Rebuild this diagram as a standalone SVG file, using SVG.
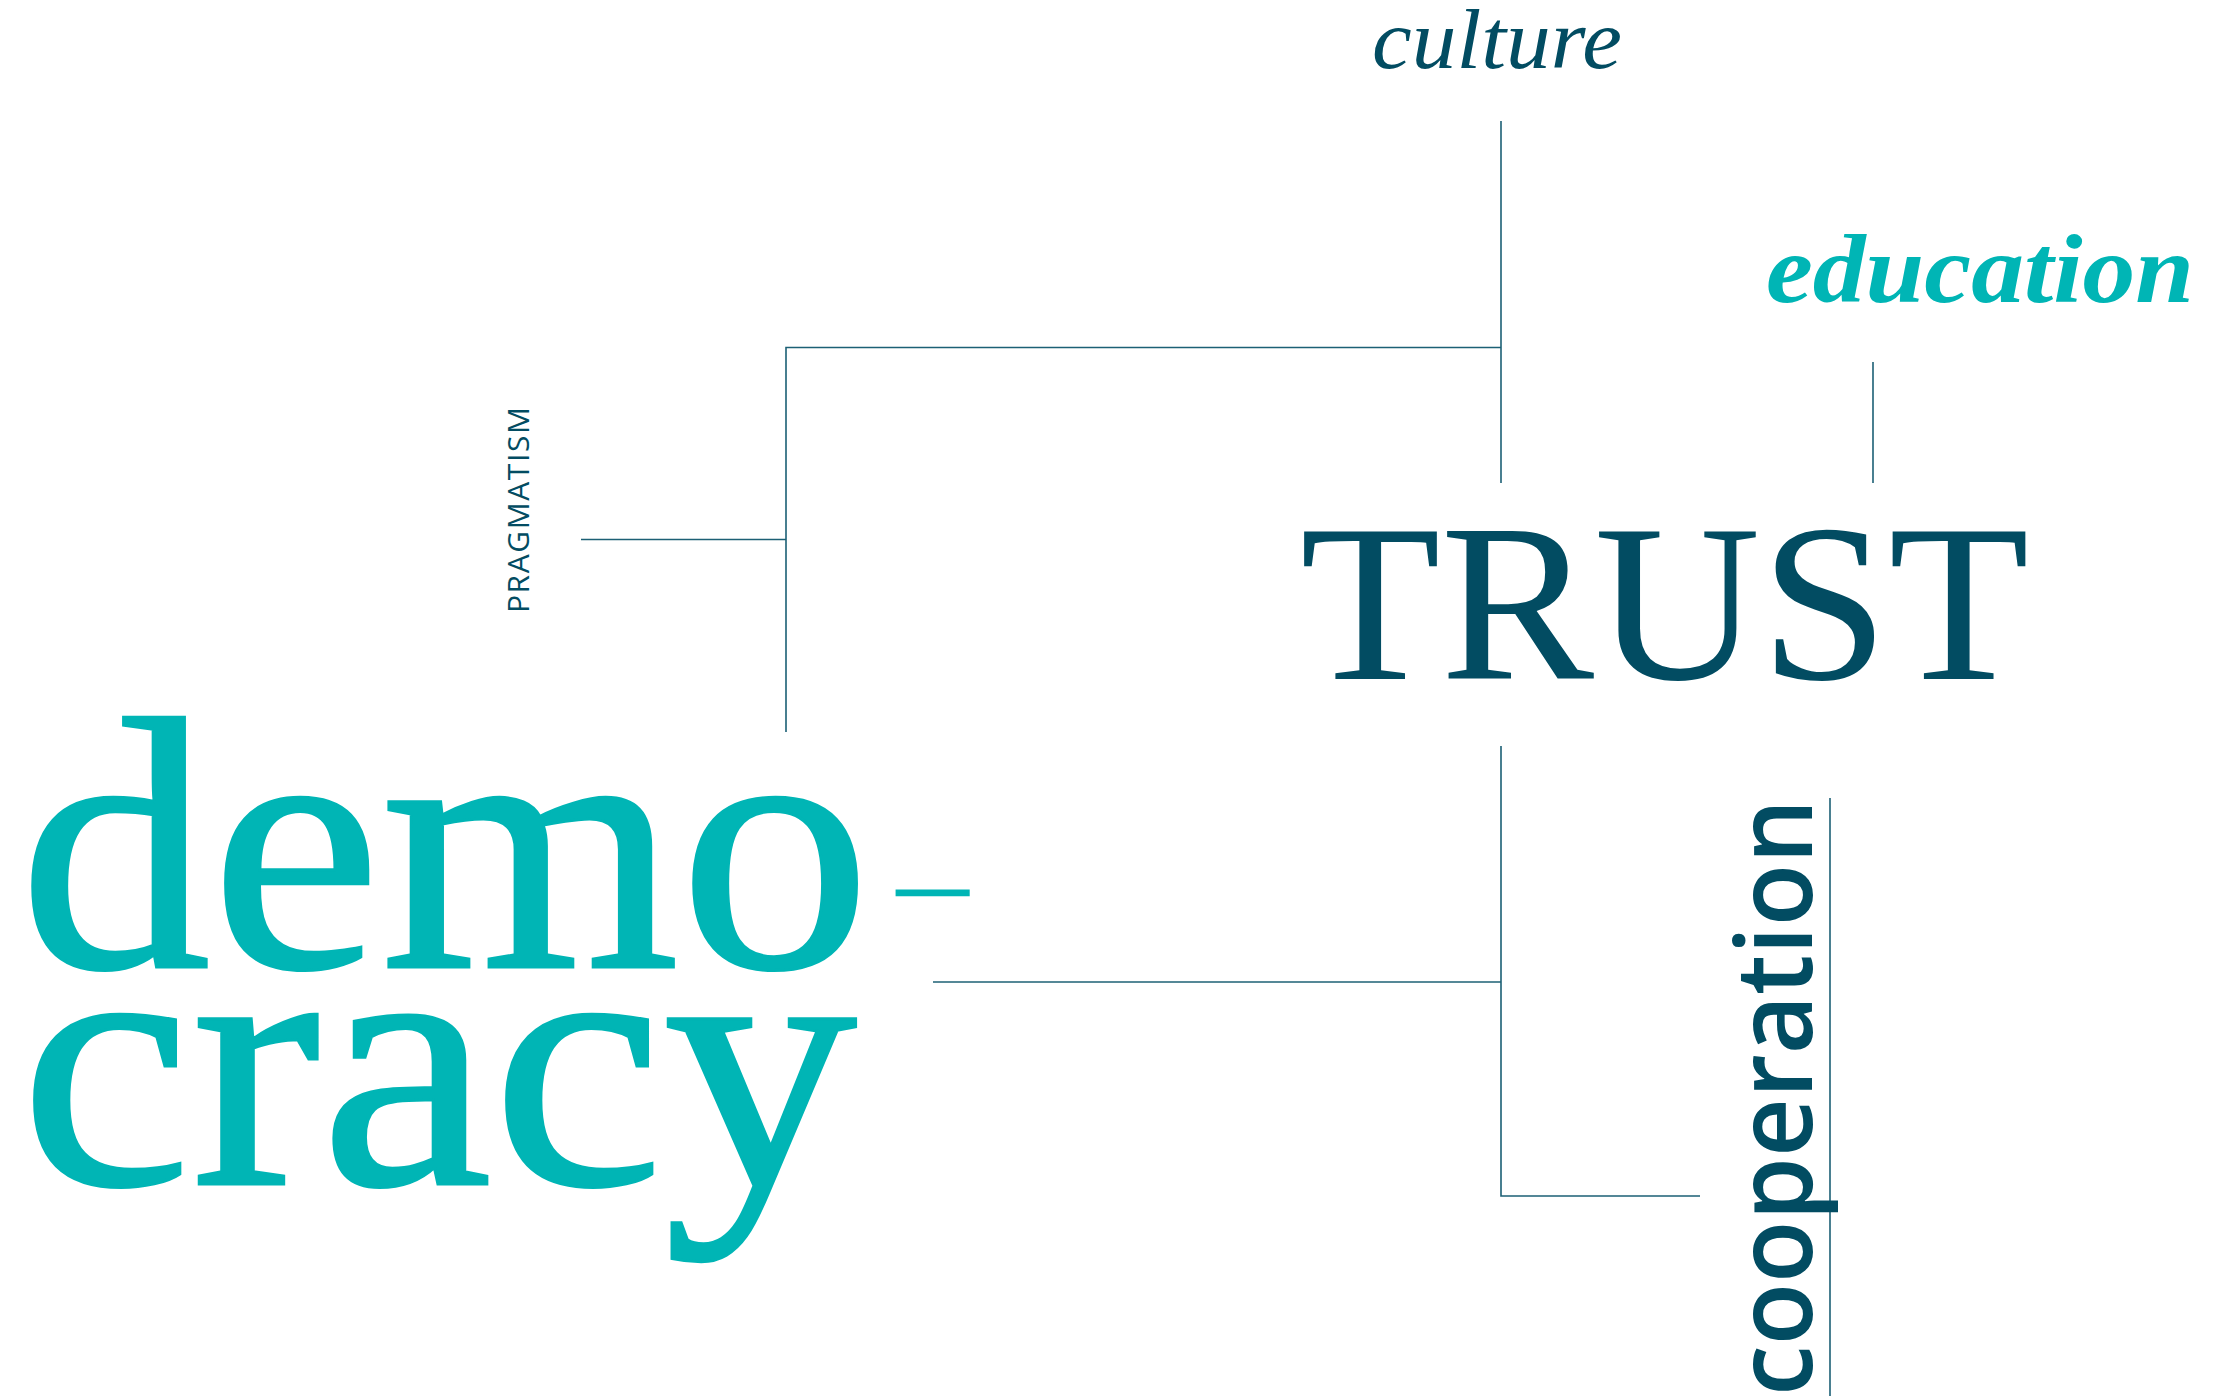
<svg xmlns="http://www.w3.org/2000/svg" width="2216" height="1396" viewBox="0 0 2216 1396">
  <style>
    .ink { fill: #024c62; }
    .teal { fill: #00b5b5; }
    .roman { font-family: "Liberation Serif", "Times New Roman", serif; }
    .sans { font-family: "Open Sans", "Noto Sans", "Liberation Sans", sans-serif; }
    .wire { stroke: #1c6075; stroke-width: 1.6; fill: none; stroke-linecap: butt; }
    .heavy { stroke: #00b5b5; stroke-width: 3; stroke-linejoin: miter; }
  </style>
  <rect width="2216" height="1396" fill="#ffffff"/>

  <!-- connectors -->
  <g id="connectors" class="wire">
    <line x1="1501" y1="121" x2="1501" y2="483"/>
    <polyline points="1501,347.5 786,347.5 786,732"/>
    <line x1="581" y1="539.5" x2="786" y2="539.5"/>
    <line x1="1873" y1="362" x2="1873" y2="483"/>
    <polyline points="1501,746 1501,1196 1700,1196"/>
    <line x1="933" y1="982" x2="1501" y2="982"/>
    <line x1="1830" y1="798" x2="1830" y2="1396"/>
  </g>

  <!-- culture -->
  <g id="culture">
    <text class="roman ink" x="1372" y="68" font-size="85" font-style="italic" textLength="250" lengthAdjust="spacingAndGlyphs">culture</text>
  </g>

  <!-- education -->
  <g id="education">
    <text class="roman teal" x="1766" y="302" font-size="98" font-style="italic" font-weight="bold" textLength="428" lengthAdjust="spacingAndGlyphs">education</text>
  </g>

  <!-- pragmatism -->
  <g id="pragmatism">
    <text class="sans ink" transform="translate(529,613) rotate(-90)" x="0" y="0" font-size="30" font-weight="400" textLength="206" lengthAdjust="spacing">PRAGMATISM</text>
  </g>

  <!-- trust -->
  <g id="trust">
    <text class="roman ink" x="1300" y="679" font-size="225" textLength="729" lengthAdjust="spacingAndGlyphs">TRUST</text>
  </g>

  <!-- democracy -->
  <g id="democracy">
    <text class="roman teal heavy" x="19" y="967" font-size="360" textLength="852" lengthAdjust="spacingAndGlyphs">demo</text>
    <text class="roman teal" transform="translate(885,914) scale(3.17,1)" x="0" y="0" font-size="90">-</text>
    <text class="roman teal heavy" x="20" y="1184" font-size="360" textLength="837" lengthAdjust="spacingAndGlyphs">cracy</text>
  </g>

  <!-- cooperation -->
  <g id="cooperation">
    <text class="sans ink" transform="translate(1812,1396) rotate(-90)" x="0" y="0" font-size="106" font-weight="600" textLength="597" lengthAdjust="spacingAndGlyphs">cooperation</text>
  </g>
</svg>
